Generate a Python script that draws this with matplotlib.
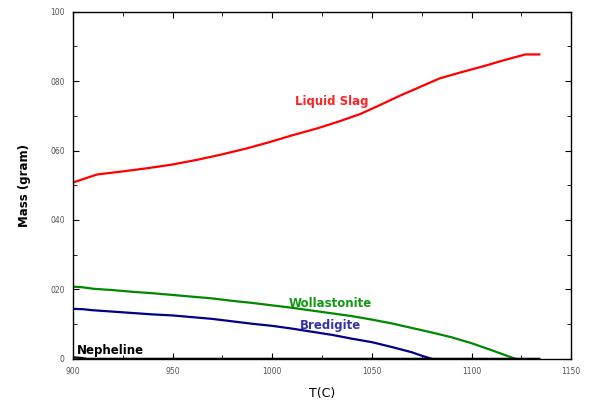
import numpy as np
import matplotlib.pyplot as plt
from matplotlib.ticker import MultipleLocator, FuncFormatter

# data
t_slag = [900, 912, 925, 937, 949, 962, 974, 987, 999, 1010, 1022, 1033, 1044, 1054, 1064,
          1074, 1084, 1095, 1106, 1116, 1127, 1134]
m_slag = [50.8, 53.1, 54.0, 54.9, 55.9, 57.3, 58.8, 60.6, 62.5, 64.4, 66.3, 68.3, 70.5, 73.1, 75.8,
          78.3, 80.8, 82.6, 84.3, 86.0, 87.7, 87.7]

t_woll = [900, 905, 910, 920, 930, 940, 950, 960, 970, 980, 990, 1000, 1010, 1020, 1030,
          1040, 1050, 1060, 1070, 1080, 1090, 1100, 1110, 1122]
m_woll = [20.8, 20.6, 20.2, 19.8, 19.3, 18.9, 18.4, 17.9, 17.4, 16.7, 16.1, 15.4, 14.7, 13.9, 13.1,
          12.3, 11.3, 10.2, 8.9, 7.6, 6.2, 4.5, 2.5, 0.0]

t_bred = [900, 905, 910, 920, 930, 940, 950, 960, 970, 980, 990, 1000, 1010, 1020, 1030,
          1040, 1050, 1060, 1070, 1075, 1080]
m_bred = [14.4, 14.3, 14.0, 13.6, 13.2, 12.8, 12.5, 12.0, 11.5, 10.8, 10.1, 9.5, 8.7, 7.8, 6.9,
          5.8, 4.8, 3.4, 1.9, 0.9, 0.0]

t_neph = [900, 903, 905, 907, 1134]
m_neph = [0.4, 0.3, 0.2, 0.0, 0.0]

fig = plt.figure(figsize=(5.91, 4.05), dpi=100)
ax = fig.add_axes([0.1235, 0.114, 0.843, 0.857])

ax.plot(t_slag, m_slag, color='#ff0000', lw=1.6)
ax.plot(t_woll, m_woll, color='#008800', lw=1.6)
ax.plot(t_bred, m_bred, color='#000088', lw=1.6)
ax.plot(t_neph, m_neph, color='black', lw=1.6)

ax.text(1030, 74, 'Liquid Slag', color='#ff2222', fontsize=8.5, fontweight='bold', ha='center', va='center')
ax.text(1029, 16.0, 'Wollastonite', color='#119911', fontsize=8.5, fontweight='bold', ha='center', va='center')
ax.text(1029, 9.6, 'Bredigite', color='#3333aa', fontsize=8.5, fontweight='bold', ha='center', va='center')
ax.text(902, 2.3, 'Nepheline', color='black', fontsize=8.5, fontweight='bold', ha='left', va='center')

ax.set_xlim(900, 1150)
ax.set_ylim(0, 100)
ax.xaxis.set_major_locator(MultipleLocator(50))
ax.xaxis.set_minor_locator(MultipleLocator(25))
ax.yaxis.set_major_locator(MultipleLocator(20))
ax.yaxis.set_minor_locator(MultipleLocator(10))
ax.yaxis.set_major_formatter(FuncFormatter(lambda v, p: '0' if v == 0 else ('100' if v == 100 else '%03d' % v)))

ax.tick_params(which='both', direction='in', top=True, right=True, labelsize=5.5,
               labelcolor='#555555', pad=6)
ax.tick_params(which='major', length=4)
ax.tick_params(which='minor', length=3)
for s in ax.spines.values():
    s.set_linewidth(1.0)

ax.set_xlabel('T(C)', fontsize=9, labelpad=8)
ax.set_ylabel('Mass (gram)', fontsize=8.5, fontweight='bold', labelpad=14)

fig.savefig('out.png', dpi=100)
